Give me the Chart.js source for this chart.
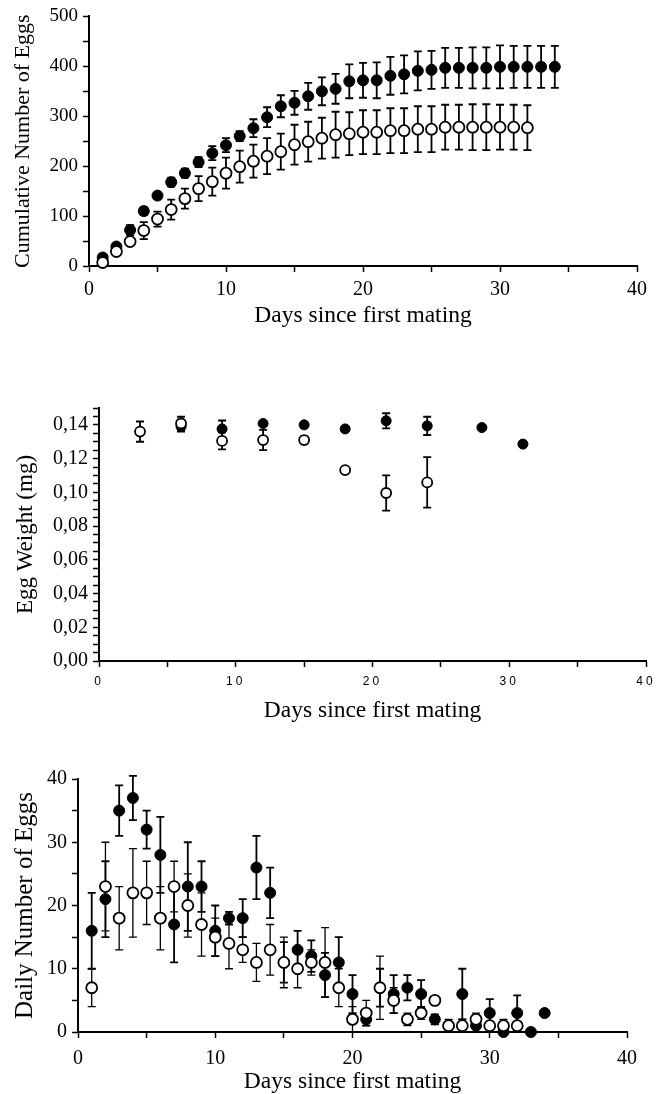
<!DOCTYPE html>
<html><head><meta charset="utf-8">
<script src="https://cdn.jsdelivr.net/npm/chart.js@4.4.0/dist/chart.umd.min.js"></script>
<style>
html,body{margin:0;padding:0;background:#fff;}
body{width:668px;height:1094px;position:relative;overflow:hidden;}
canvas{position:absolute;left:0;}
</style></head><body>
<canvas id="c1" width="668" height="335" style="top:0px;width:668px;height:335px"></canvas>
<canvas id="c2" width="668" height="390" style="top:340px;width:668px;height:390px"></canvas>
<canvas id="c3" width="668" height="354" style="top:740px;width:668px;height:354px"></canvas>
<script>
// ---------- DATA ----------
// Panel 1: cumulative number of eggs
const cumDaysFilled = [1,2,3,4,5,6,7,8,9,10,11,12,13,14,15,16,17,18,19,20,21,22,23,24,25,26,27,28,29,30,31,32,33,34];
const cumFilled     = [17,39,72,110,141,168,186,208,226,242,260,276,298,320,327,340,350,355,370,372,372,381,384,391,393,397,397,397,397,399,399,399,399,399];
const cumFilledErr  = [4,6,10,8,6,9,9,10,14,14,10,18,20,22,24,27,28,30,34,35,36,38,38,39,38,40,40,41,41,43,42,42,42,42];
const cumDaysOpen   = [1,2,3,4,5,6,7,8,9,10,11,12,13,14,15,16,17,18,19,20,21,22,23,24,25,26,27,28,29,30,31,32];
const cumOpen       = [7,29,49,71,94,113,135,155,169,186,199,210,220,229,243,249,256,263,265,268,268,271,271,274,274,278,278,278,278,278,278,277];
const cumOpenErr    = [3,5,5,17,15,20,20,25,28,31,32,33,36,36,40,40,41,46,43,44,44,45,45,46,46,45,45,46,46,45,45,45];

// Panel 2: egg weight (mg)
const weightDaysFilled = [6,9,12,15,18,21,24,28,31];
const weightFilled     = [0.139,0.1376,0.1408,0.140,0.1376,0.1424,0.1394,0.1384,0.1286];
const weightFilledErr  = [0.003,0.005,0.001,0.001,0.001,0.0045,0.0054,0.001,0.001];
const weightDaysOpen   = [3,6,9,12,15,18,21,24];
const weightOpen       = [0.136,0.1408,0.1305,0.131,0.131,0.1132,0.0996,0.1059];
const weightOpenErr    = [0.006,0.004,0.005,0.006,0.002,0.001,0.0105,0.015];

// Panel 3: daily number of eggs
const dailyDaysFilled = [1,2,3,4,5,6,7,8,9,10,11,12,13,14,15,16,17,18,19,20,21,22,23,24,25,26,27,28,29,30,31,32,33,34];
const dailyFilled     = [16,21,35,37,32,28,17,23,23,16,18,18,26,22,11,13,12,9,11,6,2,7,6,7,6,2,1,6,1,3,0,3,0,3];
const dailyFilledErr  = [6,6,4,3.5,3,6,6,7,4,4,1,3,5,4,3.2,3,2.5,3.5,4,3,1,3,3,2,2.2,0.8,0.5,4,0.5,2.2,0,2.8,0,0];
const dailyDaysOpen   = [1,2,3,4,5,6,7,8,9,10,11,12,13,14,15,16,17,18,19,20,21,22,23,24,25,26,27,28,29,30,31,32];
const dailyOpen       = [7,23,18,22,22,18,23,20,17,15,14,13,11,13,11,10,11,11,7,2,3,7,5,2,3,5,1,1,2,1,1,1];
const dailyOpenErr    = [3,7,5,7,5,5,4,5,5,3,4,2,3,4,4,3,2,5.5,3,2,2,5,2,1,1,0.6,1,1,1,0.5,1,0.5];

// Ticks
const dayTicks        = [0,5,10,15,20,25,30,35,40];
const dayMajorTicks   = [0,10,20,30,40];
const dayTickLabels   = ['0','10','20','30','40'];
const cumTicks        = [0,50,100,150,200,250,300,350,400,450,500];
const cumMajorTicks   = [0,100,200,300,400,500];
const cumTickLabels   = ['0','100','200','300','400','500'];
const weightTicks     = [0,0.005,0.01,0.015,0.02,0.025,0.03,0.035,0.04,0.045,0.05,0.055,0.06,0.065,0.07,0.075,0.08,0.085,0.09,0.095,0.1,0.105,0.11,0.115,0.12,0.125,0.13,0.135,0.14,0.145,0.15];
const weightMajorTicks= [0,0.02,0.04,0.06,0.08,0.10,0.12,0.14];
const weightTickLabels= ['0,00','0,02','0,04','0,06','0,08','0,10','0,12','0,14'];
const dailyTicks      = [0,5,10,15,20,25,30,35,40];
const dailyMajorTicks = [0,10,20,30,40];
const dailyTickLabels = ['0','10','20','30','40'];

const xTitle = 'Days since first mating';

// ---------- RENDERING ----------
const SERIF = "'Liberation Serif','Times New Roman',serif";
const SANS = "'Liberation Sans',Arial,sans-serif";

const errorBars = {
  id: 'errorBars',
  beforeDatasetsDraw(chart) {
    const {ctx} = chart; const xs = chart.scales.x, ys = chart.scales.y;
    ctx.save();
    ctx.strokeStyle = '#000';
    const sets = chart.data.datasets.slice().sort((a,b) => b.order - a.order);
    sets.forEach(ds => {
      ctx.lineWidth = ds.errLineWidth || 1.8;
      const cap = ds.capHalf || 4;
      ds.data.forEach((p, i) => {
        const e = ds.errors[i];
        if (!e) return;
        const px = xs.getPixelForValue(p.x);
        const t = ys.getPixelForValue(p.y + e);
        const b = ys.getPixelForValue(Math.max(p.y - e, ys.min));
        ctx.beginPath();
        ctx.moveTo(px, t); ctx.lineTo(px, b);
        ctx.moveTo(px - cap, t); ctx.lineTo(px + cap, t);
        ctx.moveTo(px - cap, b); ctx.lineTo(px + cap, b);
        ctx.stroke();
      });
    });
    ctx.restore();
  }
};

const spacedX = {
  id: 'spacedX',
  afterLayout(chart) {
    const sp = chart.options.plugins.spacedX && chart.options.plugins.spacedX.spacing;
    if (!sp) return;
    const xs = chart.scales.x;
    if (xs._spacedPatched) return;
    const orig = xs.drawLabels;
    xs.drawLabels = function(area) {
      const c = this.ctx; c.save();
      try { c.letterSpacing = sp; } catch (e) {}
      orig.call(this, area);
      c.restore();
    };
    xs._spacedPatched = true;
  }
};

function labelCb(majors, labels) {
  return function(v) {
    const i = majors.findIndex(m => Math.abs(m - v) < 1e-9);
    return i >= 0 ? labels[i] : '';
  };
}

function pts(xs, ys) { return xs.map((x, i) => ({x, y: ys[i]})); }

function makeChart(id, p) {
  return new Chart(document.getElementById(id), {
    type: 'scatter',
    data: {
      datasets: [
        { label: 'open', order: 0, data: pts(p.openX, p.openY), errors: p.openErr,
          pointRadius: p.r, pointHoverRadius: p.r, pointBackgroundColor: '#fff',
          pointBorderColor: '#000', pointBorderWidth: 1.8, errLineWidth: p.openLW, capHalf: 4,
          showLine: false, clip: false },
        { label: 'filled', order: 1, data: pts(p.filledX, p.filledY), errors: p.filledErr,
          pointRadius: p.r, pointHoverRadius: p.r, pointBackgroundColor: '#000',
          pointBorderColor: '#000', pointBorderWidth: 1, errLineWidth: p.filledLW, capHalf: 4,
          showLine: false, clip: false }
      ]
    },
    options: {
      responsive: false, animation: false, devicePixelRatio: 1,
      layout: { padding: { top: p.padTop, right: p.padRight, left: 0, bottom: 0 } },
      plugins: { legend: { display: false }, tooltip: { enabled: false },
                 spacedX: { spacing: p.xSpacing || null } },
      scales: {
        x: {
          type: 'linear', min: 0, max: 40,
          afterBuildTicks: s => { s.ticks = dayTicks.map(v => ({value: v})); },
          afterFit: s => { s.height = p.xHeight; },
          border: { display: true, color: '#000', width: 2 },
          grid: { display: true, drawOnChartArea: false, drawTicks: true, tickLength: 6, tickColor: '#000', tickWidth: 1.5 },
          ticks: { autoSkip: false, maxRotation: 0, color: '#000', padding: p.xTickPad,
                   font: { family: p.xTickFamily, size: p.xTickSize },
                   callback: labelCb(dayMajorTicks, dayTickLabels) },
          title: { display: true, text: xTitle, color: '#000',
                   font: { family: SERIF, size: 23.5, lineHeight: 1.0 },
                   padding: { top: 0, bottom: p.xTitlePadB } }
        },
        y: {
          type: 'linear', min: p.yMin, max: p.yMax,
          afterBuildTicks: s => { s.ticks = p.yTicks.map(v => ({value: v})); },
          afterFit: s => { s.width = p.yWidth; },
          border: { display: true, color: '#000', width: 2 },
          grid: { display: true, drawOnChartArea: false, drawTicks: true, tickLength: 6, tickColor: '#000', tickWidth: 1.5 },
          ticks: { autoSkip: false, color: '#000', padding: 5,
                   font: { family: SERIF, size: p.yTickSize },
                   callback: labelCb(p.yMajors, p.yLabels) },
          title: { display: true, text: p.yTitle, color: '#000',
                   font: { family: SERIF, size: p.yTitleSize, lineHeight: 1.0 },
                   padding: { top: p.yTitlePadT, bottom: 0 } }
        }
      }
    },
    plugins: [errorBars, spacedX]
  });
}

makeChart('c1', {
  openX: cumDaysOpen, openY: cumOpen, openErr: cumOpenErr,
  filledX: cumDaysFilled, filledY: cumFilled, filledErr: cumFilledErr,
  r: 5.5, openLW: 1.8, filledLW: 1.8,
  padTop: 14, padRight: 31, xHeight: 69, yWidth: 89,
  xTickPad: 6, xTickFamily: SERIF, xTickSize: 20, xTitlePadB: 7,
  yMin: 0, yMax: 500, yTicks: cumTicks, yMajors: cumMajorTicks, yLabels: cumTickLabels, yTickSize: 19,
  yTitle: 'Cumulative Number of Eggs', yTitleSize: 22, yTitlePadT: 12
});

makeChart('c2', {
  openX: weightDaysOpen, openY: weightOpen, openErr: weightOpenErr,
  filledX: weightDaysFilled, filledY: weightFilled, filledErr: weightFilledErr,
  r: 5, openLW: 1.8, filledLW: 1.8,
  padTop: 68, padRight: 22, xHeight: 69, yWidth: 99,
  xTickPad: 7, xTickFamily: SANS, xTickSize: 12, xTitlePadB: 7, xSpacing: '3px',
  yMin: 0, yMax: 0.15, yTicks: weightTicks, yMajors: weightMajorTicks, yLabels: weightTickLabels, yTickSize: 20,
  yTitle: 'Egg Weight (mg)', yTitleSize: 23, yTitlePadT: 14
});

makeChart('c3', {
  openX: dailyDaysOpen, openY: dailyOpen, openErr: dailyOpenErr,
  filledX: dailyDaysFilled, filledY: dailyFilled, filledErr: dailyFilledErr,
  r: 5.5, openLW: 1.3, filledLW: 1.8,
  padTop: 39, padRight: 41, xHeight: 62, yWidth: 78,
  xTickPad: 9, xTickFamily: SERIF, xTickSize: 20, xTitlePadB: 0,
  yMin: 0, yMax: 40, yTicks: dailyTicks, yMajors: dailyMajorTicks, yLabels: dailyTickLabels, yTickSize: 20,
  yTitle: 'Daily Number of Eggs', yTitleSize: 25, yTitlePadT: 13
});
</script>
</body></html>
